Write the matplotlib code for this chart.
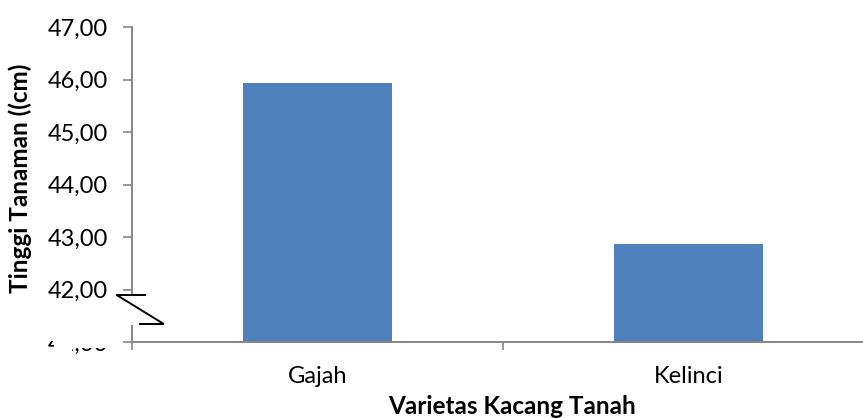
import matplotlib
matplotlib.use("Agg")
import matplotlib.pyplot as plt
import matplotlib.patches as mpatches
import matplotlib.transforms as mtransforms
from matplotlib.ticker import FuncFormatter

# ── data ─────────────────────────────────────────────────────────
varietas = ["Gajah", "Kelinci"]
tinggi = [45.93, 42.87]
y_ticks = [41, 42, 43, 44, 45, 46, 47]

BAR_CLR = "#4F81BD"
AXIS_CLR = "#868686"

plt.rcParams["font.family"] = ["Lato", "DejaVu Sans"]

W, H = 863, 418
fig = plt.figure(figsize=(W / 100, H / 100), dpi=100)
# plot area runs past the right edge, as in the original crop
ax = fig.add_axes([132 / W, (H - 342) / H, 742 / W, 315 / H])

x = range(len(varietas))
ax.bar(x, tinggi, width=0.4, color=BAR_CLR, zorder=2)

ax.set_xlim(-0.5, len(varietas) - 0.5)
ax.set_ylim(y_ticks[0], y_ticks[-1])
ax.set_yticks(y_ticks)
ax.yaxis.set_major_formatter(FuncFormatter(lambda v, p: f"{v:.2f}".replace(".", ",")))

ax.set_xticks(list(x))
ax.set_xticklabels(varietas)
ax.set_xticks([i - 0.5 for i in range(len(varietas) + 1)], minor=True)

for s in ("top", "right"):
    ax.spines[s].set_visible(False)
for s in ("left", "bottom"):
    ax.spines[s].set_color(AXIS_CLR)
    ax.spines[s].set_linewidth(1.4)

ax.tick_params(axis="y", length=6.5, width=1.2, color=AXIS_CLR,
               labelsize=17, pad=11)
ax.tick_params(axis="x", which="major", length=0, labelsize=17, pad=17)
ax.tick_params(axis="x", which="minor", length=6, width=1.2, color=AXIS_CLR)

fig.text(20 / W, 1 - 178 / H, "Tinggi Tanaman ((cm)", rotation=90,
         ha="center", va="center", fontsize=17.5, fontweight="bold")
fig.text(512 / W, 4 / H, "Varietas Kacang Tanah",
         ha="center", va="baseline", fontsize=17.5, fontweight="bold")

# ── axis break symbol ────────────────────────────────────────────
trans = mtransforms.blended_transform_factory(ax.transAxes, ax.transData)
ax.add_patch(mpatches.Rectangle((-0.006, 41.32), 0.012, 0.58, transform=trans,
                                facecolor="white", edgecolor="none",
                                clip_on=False, zorder=5))
brk = dict(color="black", lw=1.4, transform=trans, clip_on=False, zorder=6)
ax.plot([-0.020, 0.0175], [41.89, 41.89], **brk)
ax.plot([-0.020, 0.042], [41.89, 41.35], **brk)
ax.plot([0.011, 0.042], [41.35, 41.35], **brk)

# lowest tick label is mostly hidden behind the break
hide = [(38, 318, 80, 341), (54, 318, 72, 358), (78, 318, 118, 348)]
for x0, y0, x1, y1 in hide:
    fig.patches.append(mpatches.Rectangle((x0 / W, (H - y1) / H),
                                          (x1 - x0) / W, (y1 - y0) / H,
                                          transform=fig.transFigure,
                                          facecolor="white", edgecolor="none",
                                          zorder=10))

fig.savefig("out.png", dpi=100)
